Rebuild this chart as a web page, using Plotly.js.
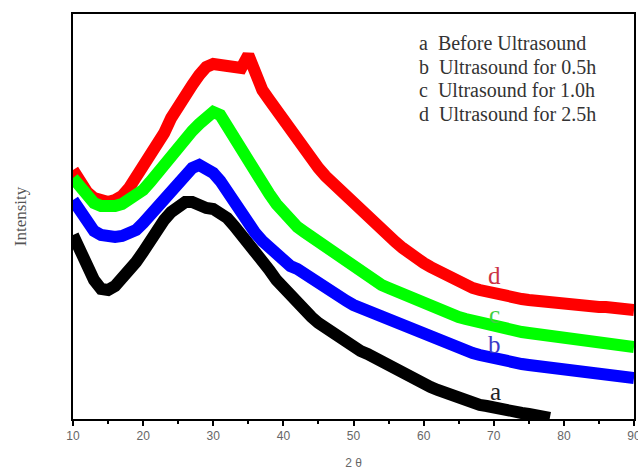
<!DOCTYPE html>
<html>
<head>
<meta charset="utf-8">
<script src="https://cdn.plot.ly/plotly-3.0.1.min.js"></script>
<style>html,body{margin:0;padding:0;background:#fff;}#chart{width:638px;height:474px;}</style>
</head>
<body>
<div id="chart"></div>
<script>
// 2θ positions (degrees)
const twoTheta = [10,11,12,13,14,15,16,17,18,19,20,21,22,23,24,25,26,27,28,29,30,31,32,33,34,35,36,37,38,39,40,41,42,43,44,45,46,47,48,49,50,51,52,53,54,55,56,57,58,59,60,61,62,63,64,65,66,67,68,69,70,71,72,73,74,75,76,77,78,79,80,81,82,83,84,85,86,87,88,89,90];
const twoThetaA = [10,11,12,13,14,15,16,17,18,19,20,21,22,23,24,25,26,27,28,29,30,31,32,33,34,35,36,37,38,39,40,41,42,43,44,45,46,47,48,49,50,51,52,53,54,55,56,57,58,59,60,61,62,63,64,65,66,67,68,69,70,71,72,73,74,75,76,77,78];

// Intensity (arbitrary units, offset curves as plotted)
const seriesA = [184,167,151,139,130,129,133,140,149,157,167,179,190,199,207,214,217,217,213,211,210,207,201,193,185,176,167,158,149,139,131,123,115,108,102,96,91,86,81,76,72,68,65,61,57,53,49,45,42,39,35,32,29,26,23,20,18,16,14,13,11,10,8,7,6,5,3,2,1];
const seriesB = [219,207,195,188,184,182,182,183,185,189,196,204,212,221,229,235,243,251,254,251,246,238,227,216,205,195,186,178,171,164,158,153,150,145,140,135,130,126,122,118,114,111,108,105,102,99,97,94,91,88,85,82,79,76,73,70,68,66,64,62,60,58,57,56,55,54,53,52,51,51,50,49,48,48,47,46,45,44,43,42,41];
const seriesC = [241,231,222,216,213,212,213,215,219,223,229,237,246,256,265,271,279,288,295,301,307,304,292,281,269,258,247,236,225,215,206,199,192,187,182,177,172,167,162,157,152,147,142,138,134,131,128,124,121,117,114,111,108,106,104,102,100,98,97,95,94,92,90,89,87,86,85,84,83,82,81,80,79,78,77,76,75,75,74,73,72];
const seriesD = [249,237,227,221,218,217,219,223,231,241,254,264,273,286,301,314,324,334,344,352,355,354,352,349,351,364,342,329,319,309,299,289,277,267,259,251,243,236,229,222,215,208,201,195,189,183,177,171,165,160,156,152,148,144,140,137,134,131,129,127,126,125,123,122,120,119,118,117,117,116,116,115,114,113,113,112,112,111,110,109,109];

const legendLines = ['a  Before Ultrasound','b  Ultrasound for 0.5h','c  Ultrasound for 1.0h','d  Ultrasound for 2.5h'];
const curveLetters = ['a','b','c','d'];
const letterX = [70.3,70.1,70.1,70.1];
const letterY = [28,75,105,144];
const xTicks = [10,20,30,40,50,60,70,80,90];

const LW = 12;
const traces = [
  {x: twoThetaA, y: seriesA, mode:'lines', line:{color:'#000000', width:LW}, name:'a'},
  {x: twoTheta, y: seriesB, mode:'lines', line:{color:'#0000ff', width:LW}, name:'b'},
  {x: twoTheta, y: seriesD, mode:'lines', line:{color:'#ff0000', width:LW}, name:'d'},
  {x: twoTheta, y: seriesC, mode:'lines', line:{color:'#00ff00', width:LW}, name:'c'}
];

const serif = "'Liberation Serif', 'Times New Roman', 'DejaVu Serif', serif";
const sans = "'Liberation Sans', Arial, sans-serif";
const annotations = [];
legendLines.forEach((t, i) => {
  annotations.push({xref:'paper', yref:'paper', x:(417-73)/561, y:(419-(43+i*23.5))/405,
    xanchor:'left', yanchor:'middle', text:t, showarrow:false,
    font:{family:serif, size:20, color:'#333333'}});
});
const letterColors = ['#222222','#3a3ac8','#3fcf3f','#cc3344'];
curveLetters.forEach((l, i) => {
  annotations.push({x:letterX[i], y:letterY[i], text:l, showarrow:false,
    xanchor:'center', yanchor:'middle', font:{family:serif, size:25, color:letterColors[i]}});
});

const layout = {
  width:638, height:474,
  margin:{l:73, r:4, t:14, b:55},
  paper_bgcolor:'#ffffff', plot_bgcolor:'#ffffff',
  showlegend:false,
  xaxis:{range:[10,90], tickvals:xTicks, ticks:'outside', ticklen:5, tickwidth:2, tickcolor:'#000',
    ticklabeloverflow:'allow',
    minor:{dtick:5, tick0:5, ticks:'outside', ticklen:3, tickwidth:2, tickcolor:'#000'},
    showline:true, linecolor:'#000', linewidth:2, mirror:true, showgrid:false, zeroline:false,
    tickfont:{family:sans, size:12, color:'#666666'},
    title:{text:'2 θ', font:{family:sans, size:12, color:'#666666'}, standoff:16}},
  yaxis:{range:[0,405], showticklabels:false, ticks:'', showline:true, linecolor:'#000', linewidth:2, mirror:true,
    showgrid:false, zeroline:false,
    title:{text:'Intensity', font:{family:serif, size:17, color:'#555555'}, standoff:40}},
  annotations: annotations
};

Plotly.newPlot('chart', traces, layout, {displayModeBar:false, staticPlot:true});
</script>
</body>
</html>
